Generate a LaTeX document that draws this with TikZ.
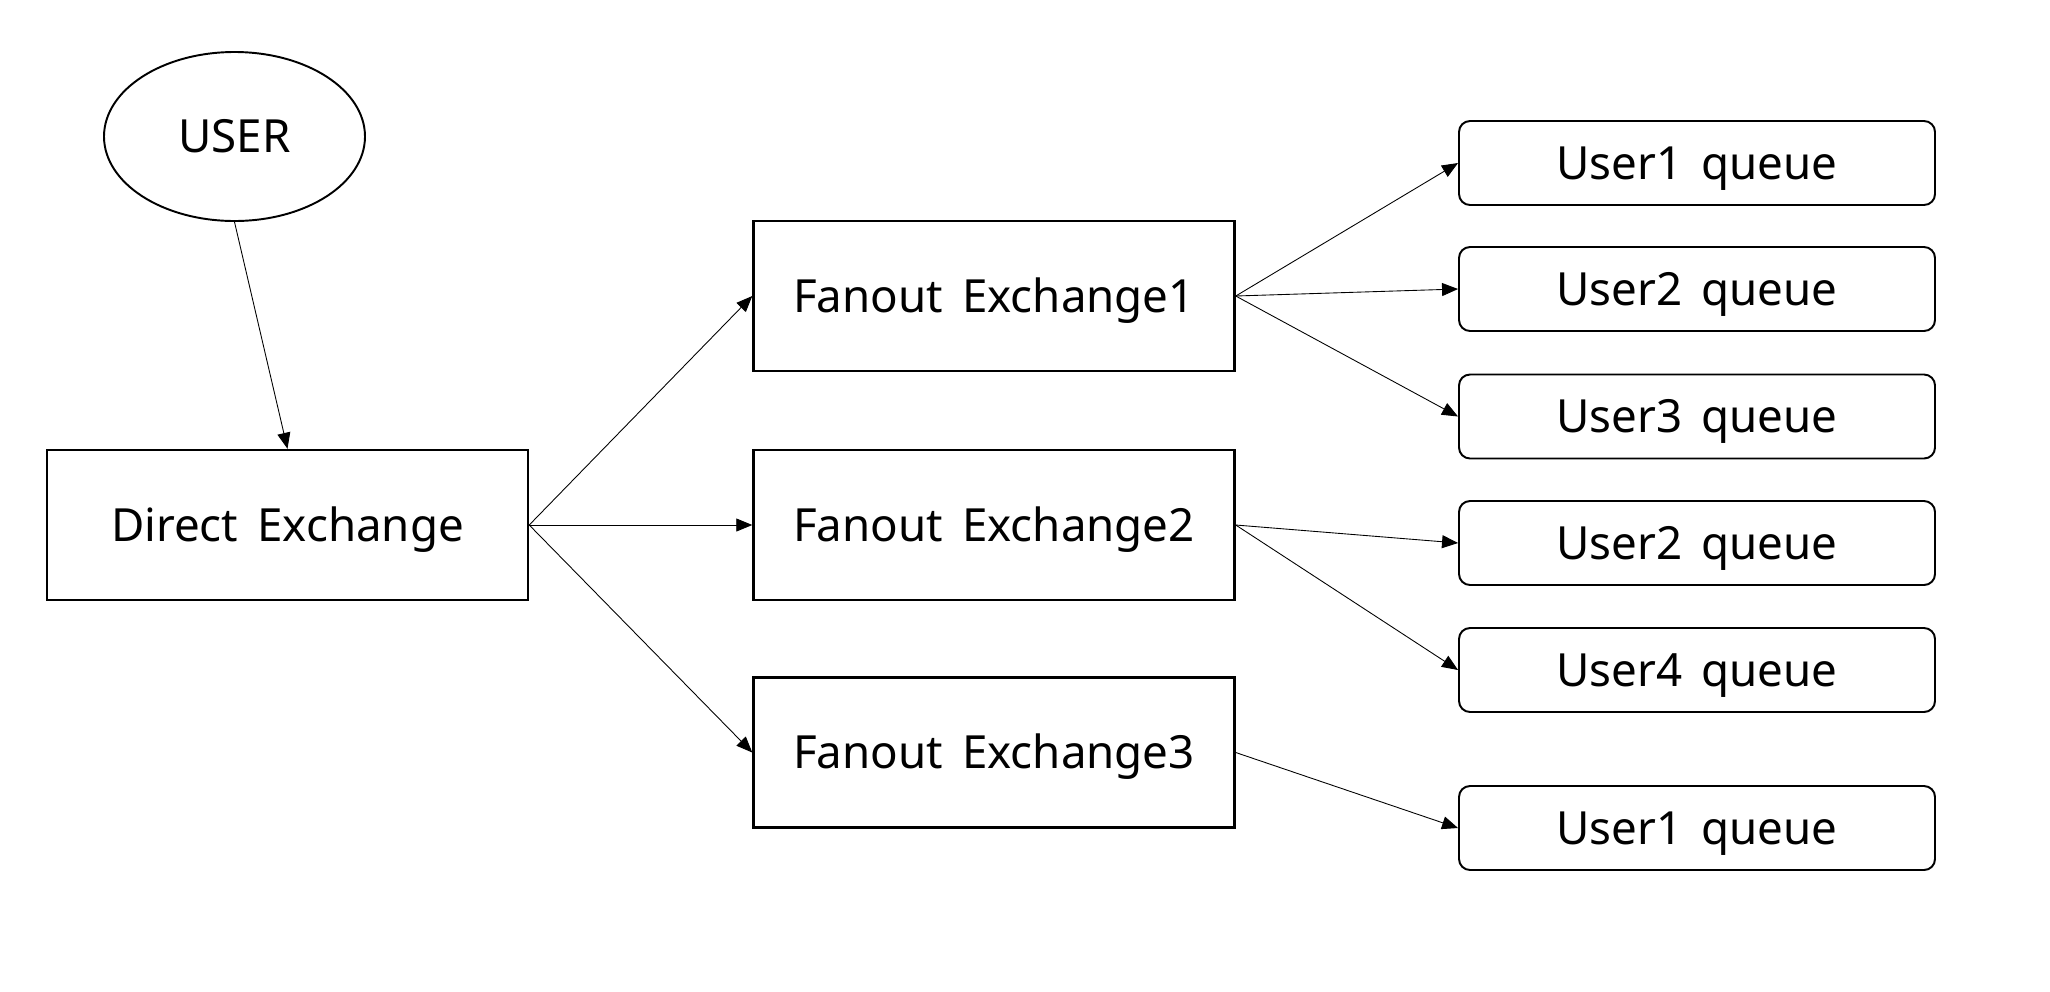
\documentclass[tikz,border=0pt]{standalone}
\usepackage{fontspec}
\setmainfont[WordSpace=1.6]{Noto Sans}
\usepackage{tikz}
\usetikzlibrary{shapes,arrows.meta}

\begin{document}
\begin{tikzpicture}[
    exchange/.style={draw, line width=1.4pt, rectangle, minimum width=9.62cm, minimum height=3cm, inner sep=0pt},
    queue/.style={draw, line width=1.1pt, rectangle, rounded corners=0.22cm, minimum width=9.52cm, minimum height=1.68cm, inner sep=0pt},
    link/.style={line width=0.5pt, -{Triangle[length=0.32cm, width=0.26cm]}},
    font=\fontsize{26pt}{31pt}\selectfont, text height=18.6pt, text depth=0pt]
\useasboundingbox (0,0) rectangle (41,-19.82);

\node [draw, line width=1.1pt, ellipse, minimum width=5.22cm, minimum height=3.38cm, inner sep=0pt] (user) at (4.69,-2.73) {USER};
\node [exchange] (direct) at (5.75,-10.5) {Direct Exchange};

\node [exchange] (fanout1) at (19.88,-5.92) {Fanout Exchange1};
\node [exchange] (fanout2) at (19.88,-10.5) {Fanout Exchange2};
\node [exchange] (fanout3) at (19.88,-15.05) {Fanout Exchange3};

\node [queue] (q1) at (33.94,-3.26) {User1 queue};
\node [queue] (q2) at (33.94,-5.78) {User2 queue};
\node [queue] (q3) at (33.94,-8.33) {User3 queue};
\node [queue] (q4) at (33.94,-10.86) {User2 queue};
\node [queue] (q5) at (33.94,-13.4) {User4 queue};
\node [queue] (q6) at (33.94,-16.56) {User1 queue};

\draw [link] (user.south) -- (direct.north);
\foreach \f in {fanout1,fanout2,fanout3}
  \draw [link] (direct.east) -- (\f.west);
\foreach \q in {q1,q2,q3}
  \draw [link] (fanout1.east) -- (\q.west);
\foreach \q in {q4,q5}
  \draw [link] (fanout2.east) -- (\q.west);
\draw [link] (fanout3.east) -- (q6.west);
\end{tikzpicture}
\end{document}
